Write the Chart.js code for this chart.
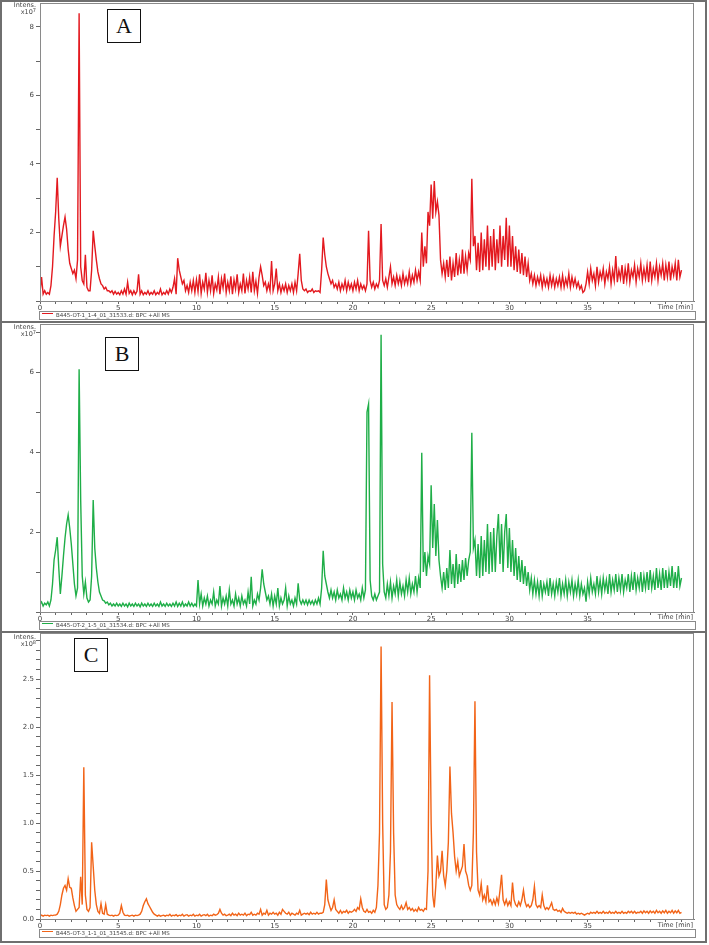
<!DOCTYPE html>
<html>
<head>
<meta charset="utf-8">
<title>BPC chromatograms</title>
<script src="https://cdn.jsdelivr.net/npm/chart.js@4.4.0/dist/chart.umd.min.js"></script>
<style>
  body { margin: 0; background: #fff; font-family: "DejaVu Sans", Verdana, sans-serif; }
  #page { position: relative; width: 709px; height: 945px; overflow: hidden; }
  .outer { position: absolute; left: 0; top: 0; width: 707px; height: 943px; border: 2px solid #6f6f6f; box-sizing: border-box; }
  .sep { position: absolute; left: 0; width: 707px; height: 2px; background: #6f6f6f; }
  .panel { position: absolute; left: 0; width: 709px; }
  .intens { position: absolute; right: 673px; font-size: 6.5px; line-height: 7px; color: #444; text-align: right; white-space: nowrap; }
  .intens sup { font-size: 5px; vertical-align: 2px; line-height: 0; }
  .timelab { position: absolute; right: 16px; font-size: 6.5px; color: #444; white-space: nowrap; }
  .legend { position: absolute; left: 39px; width: 655px; height: 7px; border: 1px solid #8a8a8a; box-sizing: content-box; font-size: 5.5px; line-height: 7px; color: #444; white-space: nowrap; }
  .legend i { display: inline-block; width: 11px; height: 1px; margin: 0 3px 0 2px; vertical-align: 3px; }
  .letter { position: absolute; width: 32px; height: 32px; border: 1.5px solid #111; background: #fff; font-family: "Liberation Serif", "Times New Roman", serif; font-size: 22px; line-height: 32px; text-align: center; color: #111; }
</style>
</head>
<body>
<div id="page">
  <div class="outer"></div>
  <div class="sep" style="top:321px"></div>
  <div class="sep" style="top:631px"></div>
  <div class="panel" style="top:0;height:322px"><canvas id="chartA"></canvas></div>
  <div class="panel" style="top:322px;height:310px"><canvas id="chartB"></canvas></div>
  <div class="panel" style="top:632px;height:310px"><canvas id="chartC"></canvas></div>
</div>
<script>
// sampling grid of the traces (minutes)
const timeStep = 0.1;

// panel A, intensity x10^7 (one row = one minute)
const intensA = [
  0.25,0.7,0.2,0.3,0.2,0.25,0.2,0.45,1.0,1.9,
  2.6,3.6,2.4,1.6,1.9,2.2,2.45,2.1,1.5,1.1,
  0.95,0.8,0.9,0.65,1.2,8.4,1.0,0.6,0.5,1.35,
  0.4,0.3,0.3,0.9,2.05,1.6,1.2,0.85,0.65,0.5,
  0.45,0.35,0.4,0.3,0.3,0.25,0.3,0.2,0.28,0.2,
  0.25,0.18,0.3,0.2,0.35,0.2,0.55,0.22,0.3,0.18,
  0.3,0.2,0.28,0.78,0.2,0.3,0.18,0.25,0.2,0.3,
  0.18,0.25,0.2,0.3,0.18,0.25,0.2,0.35,0.18,0.25,
  0.2,0.3,0.2,0.35,0.25,0.4,0.65,0.2,1.25,0.9,
  0.7,0.5,0.6,0.3,0.45,0.25,0.55,0.3,0.6,0.25,
  0.62,0.28,0.78,0.22,0.55,0.35,0.82,0.25,0.6,0.3,
  0.75,0.22,0.5,0.32,0.7,0.2,0.65,0.38,0.8,0.25,
  0.55,0.3,0.72,0.2,0.62,0.35,0.78,0.25,0.5,0.3,
  0.8,0.22,0.6,0.35,0.7,0.25,0.85,0.3,0.58,0.22,
  0.7,1.0,0.75,0.45,0.55,0.3,0.5,0.3,1.17,0.3,
  0.5,0.95,0.3,0.5,0.25,0.45,0.3,0.5,0.25,0.45,
  0.3,0.5,0.25,0.55,0.3,0.8,1.38,0.6,0.35,0.3,
  0.35,0.25,0.3,0.28,0.35,0.25,0.3,0.28,0.3,0.25,
  0.9,1.85,1.35,1.0,0.8,0.65,0.5,0.6,0.4,0.5,
  0.35,0.55,0.3,0.5,0.35,0.6,0.3,0.55,0.35,0.5,
  0.3,0.55,0.35,0.6,0.3,0.5,0.35,0.45,0.3,0.5,
  2.05,0.6,0.4,0.55,0.35,0.5,0.4,0.6,2.25,0.6,
  0.45,0.65,0.4,0.7,1.0,0.5,0.7,0.45,0.75,0.5,
  0.7,0.45,0.8,0.5,0.7,0.5,0.85,0.5,0.75,0.55,
  0.9,0.6,0.85,0.6,2.0,1.0,1.6,1.1,2.6,2.2,
  3.4,2.4,3.5,2.6,2.9,2.5,1.2,0.8,1.1,0.7,
  1.2,0.7,1.3,0.6,1.1,0.7,1.4,0.75,1.2,0.8,
  1.5,0.8,1.3,0.9,1.4,1.2,3.57,1.6,1.9,0.9,
  1.7,0.85,2.0,0.9,1.8,1.0,2.2,0.9,1.9,1.0,
  2.1,0.9,1.8,1.1,2.2,1.0,1.9,1.2,2.43,1.0,
  2.2,1.0,1.9,0.9,1.6,0.85,1.5,0.8,1.4,0.75,
  1.3,0.7,1.1,0.6,0.8,0.5,0.75,0.45,0.7,0.5,
  0.75,0.4,0.7,0.45,0.65,0.4,0.75,0.45,0.7,0.4,
  0.65,0.45,0.7,0.4,0.75,0.4,0.65,0.45,0.8,0.4,
  0.7,0.45,0.65,0.4,0.55,0.35,0.45,0.25,0.3,0.5,
  0.85,0.5,0.95,0.6,0.8,0.45,1.0,0.55,0.85,0.65,
  0.95,0.5,0.85,0.65,1.0,0.5,0.9,0.6,1.31,0.55,
  0.9,0.65,1.05,0.5,0.95,0.6,1.1,0.55,0.9,0.7,
  1.05,0.55,0.95,0.7,1.1,0.6,0.95,0.65,1.05,0.55,
  1.15,0.6,0.95,0.7,1.1,0.6,1.0,0.75,1.1,0.6,
  1.05,0.7,1.15,0.6,1.0,0.75,1.1,0.6,1.2,0.7,
  0.9
];

// panel B, intensity x10^7
const intensB = [
  0.2,0.25,0.15,0.22,0.18,0.25,0.15,0.3,0.7,1.3,
  1.55,1.87,1.1,0.45,0.9,1.4,1.85,2.2,2.43,2.1,
  1.7,1.2,0.7,0.4,0.6,6.07,2.8,0.9,0.45,0.75,
  0.35,0.25,0.3,0.9,2.8,1.6,1.1,0.75,0.5,0.4,
  0.3,0.28,0.22,0.25,0.18,0.22,0.15,0.2,0.15,0.22,
  0.15,0.2,0.14,0.22,0.15,0.2,0.13,0.22,0.15,0.2,
  0.14,0.22,0.15,0.2,0.13,0.22,0.15,0.2,0.14,0.22,
  0.15,0.2,0.14,0.22,0.15,0.2,0.14,0.25,0.15,0.2,
  0.14,0.22,0.15,0.2,0.14,0.22,0.15,0.25,0.14,0.22,
  0.15,0.25,0.14,0.2,0.15,0.25,0.15,0.22,0.14,0.2,
  0.15,0.8,0.2,0.45,0.15,0.35,0.2,0.4,0.15,0.3,
  0.2,0.5,0.15,0.3,0.2,0.65,0.15,0.35,0.2,0.4,
  0.15,0.55,0.2,0.3,0.15,0.45,0.2,0.35,0.15,0.4,
  0.2,0.3,0.15,0.5,0.2,0.88,0.15,0.3,0.2,0.45,
  0.3,0.6,1.07,0.7,0.5,0.3,0.4,0.2,0.45,0.15,
  0.4,0.2,0.6,0.15,0.35,0.2,0.3,0.6,0.15,0.4,
  0.2,0.3,0.15,0.35,0.2,0.72,0.3,0.2,0.3,0.2,
  0.3,0.18,0.3,0.2,0.28,0.18,0.3,0.2,0.35,0.2,
  0.6,1.53,0.9,0.7,0.5,0.35,0.55,0.35,0.5,0.3,
  0.55,0.35,0.45,0.3,0.6,0.35,0.5,0.3,0.55,0.35,
  0.5,0.3,0.55,0.35,0.45,0.3,0.6,0.35,0.55,5.0,
  5.2,0.8,0.4,0.3,0.45,0.3,0.4,0.5,6.93,1.2,
  0.5,0.35,0.7,0.4,0.75,0.35,0.65,0.45,0.8,0.4,
  0.75,0.45,0.65,0.4,0.8,0.5,0.85,0.45,0.7,0.5,
  0.9,0.5,0.85,0.6,3.98,1.0,1.5,0.9,1.4,1.2,
  3.17,1.6,2.7,1.4,2.3,1.3,0.9,0.6,1.0,0.55,
  1.1,0.6,1.55,0.7,1.2,0.6,1.45,0.7,1.2,0.75,
  1.3,0.8,1.35,0.9,1.3,1.5,4.48,1.6,1.8,0.9,
  1.7,0.85,1.9,0.9,1.8,1.0,2.2,0.95,2.0,1.0,
  2.1,1.0,1.9,2.45,1.2,2.2,1.0,2.0,2.45,1.1,
  2.1,1.0,1.8,0.9,1.6,0.8,1.4,0.75,1.3,0.7,
  1.15,0.65,1.0,0.55,0.85,0.45,0.8,0.45,0.75,0.4,
  0.8,0.4,0.7,0.5,0.75,0.4,0.85,0.45,0.7,0.4,
  0.75,0.5,0.85,0.4,0.7,0.45,0.8,0.4,0.75,0.5,
  0.8,0.4,0.7,0.45,0.8,0.4,0.7,0.45,0.6,0.26,
  0.75,0.45,0.85,0.5,0.7,0.45,0.9,0.5,0.8,0.45,
  0.85,0.55,0.8,0.45,0.95,0.5,0.8,0.55,0.95,0.5,
  0.85,0.55,0.95,0.5,0.8,0.6,0.95,0.5,0.9,0.55,
  1.0,0.55,0.85,0.6,1.0,0.5,0.9,0.6,1.0,0.55,
  1.05,0.6,0.9,0.55,1.1,0.6,0.95,0.55,1.1,0.6,
  1.05,0.6,1.0,0.65,1.15,0.6,1.0,0.6,1.15,0.65,
  0.85
];

// panel C, intensity x10^8
const intensC = [
  0.03,0.04,0.03,0.04,0.035,0.04,0.03,0.04,0.035,0.04,
  0.04,0.05,0.08,0.15,0.25,0.32,0.35,0.3,0.42,0.33,
  0.32,0.22,0.14,0.08,0.1,0.12,0.44,0.15,1.58,0.25,
  0.1,0.08,0.12,0.8,0.55,0.3,0.15,0.08,0.06,0.16,
  0.06,0.05,0.15,0.05,0.04,0.035,0.04,0.03,0.04,0.035,
  0.04,0.06,0.14,0.07,0.04,0.035,0.04,0.03,0.035,0.04,
  0.03,0.04,0.035,0.04,0.05,0.08,0.14,0.18,0.21,0.16,
  0.13,0.1,0.07,0.05,0.04,0.03,0.04,0.03,0.035,0.04,
  0.03,0.04,0.035,0.05,0.03,0.04,0.035,0.045,0.03,0.04,
  0.035,0.05,0.03,0.04,0.045,0.03,0.04,0.035,0.05,0.03,
  0.04,0.035,0.05,0.03,0.04,0.045,0.035,0.05,0.03,0.04,
  0.035,0.05,0.04,0.045,0.06,0.1,0.06,0.04,0.05,0.035,
  0.04,0.05,0.035,0.06,0.04,0.05,0.035,0.06,0.04,0.05,
  0.04,0.06,0.035,0.05,0.045,0.07,0.04,0.05,0.04,0.06,
  0.05,0.1,0.04,0.06,0.05,0.09,0.04,0.06,0.05,0.07,
  0.05,0.06,0.04,0.07,0.05,0.1,0.08,0.06,0.05,0.07,
  0.04,0.06,0.05,0.04,0.06,0.05,0.09,0.04,0.05,0.06,
  0.05,0.06,0.045,0.07,0.05,0.06,0.05,0.07,0.05,0.06,
  0.06,0.07,0.15,0.41,0.2,0.14,0.09,0.12,0.2,0.1,
  0.08,0.06,0.09,0.06,0.08,0.07,0.09,0.06,0.08,0.07,
  0.08,0.1,0.08,0.12,0.1,0.21,0.12,0.08,0.07,0.1,
  0.07,0.08,0.06,0.09,0.07,0.12,0.35,0.9,2.84,1.0,
  0.15,0.1,0.12,0.25,0.7,2.26,0.9,0.25,0.15,0.12,
  0.1,0.14,0.1,0.12,0.17,0.1,0.12,0.09,0.11,0.08,
  0.1,0.08,0.12,0.09,0.1,0.08,0.11,0.1,0.5,2.54,
  1.0,0.25,0.12,0.35,0.66,0.45,0.5,0.71,0.45,0.35,
  0.5,0.8,1.59,1.1,0.9,0.65,0.5,0.6,0.45,0.5,
  0.55,0.78,0.5,0.45,0.35,0.3,0.35,0.9,2.27,0.7,
  0.3,0.25,0.37,0.2,0.25,0.18,0.35,0.18,0.2,0.15,
  0.2,0.15,0.22,0.16,0.3,0.46,0.2,0.15,0.2,0.14,
  0.18,0.14,0.38,0.2,0.15,0.13,0.18,0.14,0.2,0.3,
  0.18,0.13,0.15,0.12,0.14,0.2,0.34,0.15,0.12,0.14,
  0.12,0.25,0.14,0.1,0.12,0.1,0.13,0.17,0.1,0.09,
  0.1,0.08,0.09,0.07,0.11,0.08,0.07,0.06,0.07,0.06,
  0.07,0.06,0.07,0.05,0.06,0.05,0.06,0.05,0.04,0.05,
  0.06,0.05,0.07,0.06,0.07,0.06,0.08,0.06,0.07,0.06,
  0.08,0.06,0.07,0.06,0.08,0.06,0.07,0.06,0.08,0.06,
  0.07,0.06,0.08,0.06,0.07,0.06,0.08,0.065,0.08,0.06,
  0.08,0.06,0.07,0.065,0.08,0.06,0.085,0.065,0.08,0.06,
  0.085,0.065,0.08,0.06,0.09,0.065,0.08,0.06,0.085,0.065,
  0.09,0.06,0.08,0.065,0.09,0.06,0.085,0.065,0.09,0.06,
  0.07
];

const xLabelTimes = [0, 5, 10, 15, 20, 25, 30, 35];
const yLabelsA = [2, 4, 6, 8];
const yLabelsB = [2, 4, 6];
const yLabelsC = [0, 0.5, 1, 1.5, 2, 2.5];
const panelLetters = ["A", "B", "C"];
const exponents = [7, 7, 8];
const seriesNames = [
  "B445-OT-1_1-4_01_31533.d: BPC +All MS",
  "B445-OT-2_1-5_01_31534.d: BPC +All MS",
  "B445-OT-3_1-1_01_31545.d: BPC +All MS"
];
const colors = ["#e3191f", "#1fae48", "#f26418"];

Chart.defaults.font.family = '"DejaVu Sans", Verdana, sans-serif';
Chart.defaults.font.size = 7;
Chart.defaults.color = "#444";

// grey box round the plot area
const plotBox = {
  id: "plotBox",
  afterDraw(chart) {
    const a = chart.chartArea, ctx = chart.ctx;
    ctx.save();
    ctx.strokeStyle = "#8a8a8a";
    ctx.lineWidth = 1;
    ctx.strokeRect(a.left + 0.5, a.top + 0.5, a.right - a.left - 1, a.bottom - a.top);
    ctx.restore();
  }
};

function hasValue(list, v) {
  return list.some(x => Math.abs(x - v) < 1e-6);
}

function makeChart(id, values, color, yMax, yStep, yLabels, yFormat, padTop, xHeight) {
  const pts = values.map((v, i) => ({ x: Math.round(i * timeStep * 10) / 10, y: v }));
  return new Chart(document.getElementById(id), {
    type: "line",
    data: { datasets: [{ data: pts, borderColor: color, borderWidth: 1.4, pointRadius: 0, tension: 0 }] },
    options: {
      responsive: true,
      maintainAspectRatio: false,
      animation: false,
      layout: { padding: { left: 0, right: 15, top: padTop, bottom: 0 } },
      plugins: { legend: { display: false }, tooltip: { enabled: false } },
      scales: {
        x: {
          type: "linear", min: 0, max: 41.8,
          afterFit: s => { s.height = xHeight; s.paddingLeft = 0; s.paddingRight = 0; },
          border: { color: "#777" },
          grid: { drawOnChartArea: false, tickLength: 3, color: "#666" },
          ticks: {
            stepSize: 1, maxTicksLimit: 100, autoSkip: false, includeBounds: false,
            maxRotation: 0, padding: 0,
            callback: v => hasValue(xLabelTimes, v) ? String(v) : ""
          }
        },
        y: {
          min: 0, max: yMax,
          afterFit: s => { s.width = 40; s.paddingTop = 0; s.paddingBottom = 0; },
          border: { color: "#777" },
          grid: { drawOnChartArea: false, tickLength: 4, color: "#666" },
          ticks: {
            stepSize: yStep, maxTicksLimit: 100, autoSkip: false, includeBounds: false, padding: 2,
            callback: v => hasValue(yLabels, v) ? yFormat(v) : ""
          }
        }
      }
    },
    plugins: [plotBox]
  });
}

makeChart("chartA", intensA, colors[0], 8.7, 1, yLabelsA, v => String(v), 3, 21);
makeChart("chartB", intensB, colors[1], 7.2, 1, yLabelsB, v => String(v), 2, 20);
makeChart("chartC", intensC, colors[2], 2.98, 0.1, yLabelsC, v => v.toFixed(1), 1, 23);

// texts round each plot
const page = document.getElementById("page");
const panelTops = [0, 322, 632];
const labelTops = [303, 613, 921];
const legendTops = [311, 621, 929];
const letterBoxes = [[107, 9], [105, 337], [74, 638]];
panelLetters.forEach((letter, i) => {
  const ints = document.createElement("div");
  ints.className = "intens";
  ints.style.top = (panelTops[i] + 2) + "px";
  ints.innerHTML = "Intens.<br>x10<sup>" + exponents[i] + "</sup>";
  page.appendChild(ints);

  const t = document.createElement("div");
  t.className = "timelab";
  t.style.top = labelTops[i] + "px";
  t.textContent = "Time [min]";
  page.appendChild(t);

  const lg = document.createElement("div");
  lg.className = "legend";
  lg.style.top = legendTops[i] + "px";
  lg.innerHTML = '<i style="background:' + colors[i] + '"></i>' + seriesNames[i];
  page.appendChild(lg);

  const box = document.createElement("div");
  box.className = "letter";
  box.style.left = letterBoxes[i][0] + "px";
  box.style.top = letterBoxes[i][1] + "px";
  box.textContent = letter;
  page.appendChild(box);
});
</script>
</body>
</html>
